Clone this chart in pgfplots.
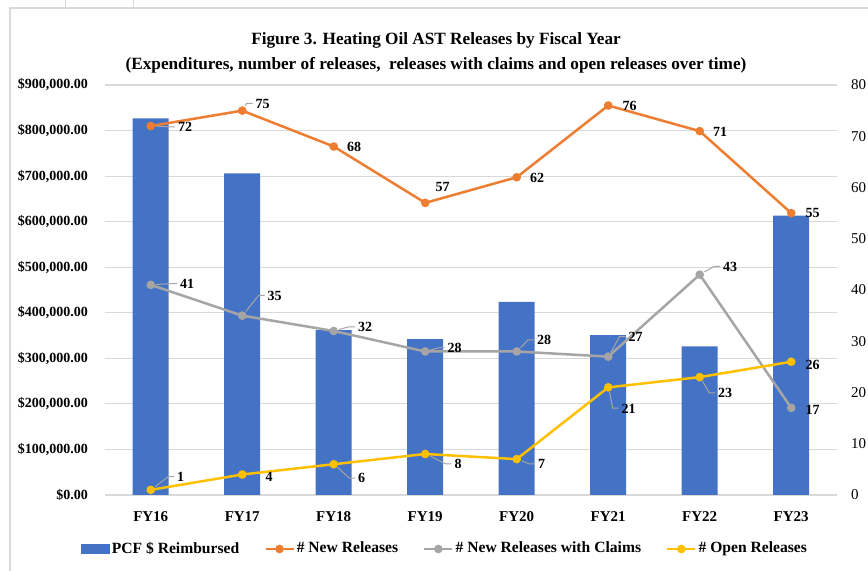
\documentclass[border=0pt]{standalone}
\usepackage{pgfplots}
\usepackage{pgfplotstable}
\pgfplotsset{compat=1.18}
\usepackage{fontspec}
\setmainfont{Liberation Serif}
\definecolor{barblue}{HTML}{4472C4}
\definecolor{orng}{HTML}{ED7D31}
\definecolor{gry}{HTML}{A5A5A5}
\definecolor{gold}{HTML}{FFC000}
\definecolor{gridc}{HTML}{D9D9D9}
\definecolor{leader}{HTML}{A6A6A6}

\pgfplotstableread{
x y
0 827000
1 706000
2 362000
3 342000
4 424000
5 351000
6 326000
7 613000
}\bars

\pgfplotstableread{
x y dx dy ll
0 72 13.5 -0.5 1
1 75 6.5 3.5 1
2 68 6.5 0 0
3 57 5 8 0
4 62 6.5 -0.5 0
5 76 7 0 0
6 71 6.5 -0.5 0
7 55 7 0 0
}\newrel

\pgfplotstableread{
x y dx dy ll
0 41 14.5 0.5 1
1 35 12.5 10 1
2 32 12 2 1
3 28 11 1.75 1
4 28 10 5.75 1
5 27 10 10 1
6 43 11.5 4 1
7 17 7 -1 0
}\claims

\pgfplotstableread{
x y dx dy ll
0 1 13 6.5 1
1 4 11.5 -1 0
2 6 12 -7 1
3 8 14.5 -5 1
4 7 10.5 -2.5 1
5 21 6.5 -10.5 1
6 23 9 -8 1
7 26 7 -1.5 0
}\openrel

\pgfplotsset{
  common/.style={
    scale only axis, width=366pt, height=205pt,
    at={(52.5pt,38pt)}, anchor=south west,
    xmin=-0.5, xmax=7.5,
    /pgf/number format/assume math mode=true,
  },
  lbl/.style={
    point meta=explicit,
    visualization depends on={\thisrow{dx}\as\dx},
    visualization depends on={\thisrow{dy}\as\dy},
    visualization depends on={\thisrow{ll}\as\ll},
    nodes near coords={\tikz[overlay,baseline=0pt]{\draw[draw=leader, line width=0.5pt, draw opacity=\ll, shorten >=2.5pt]
        (-1.5pt,2.4pt) -- (-4.5pt,2.4pt) -- (-\dx pt,2.4pt-\dy pt);}\pgfmathprintnumber{\pgfplotspointmeta}},
    every node near coord/.append style={anchor=west, xshift=\dx pt, yshift=\dy pt,
      font=\fontsize{7}{8}\selectfont\bfseries, text=black, inner sep=0pt},
  },
}

\begin{document}
\begin{tikzpicture}
\path[use as bounding box] (0,0) rectangle (434pt,285.5pt);
\draw[gridc, line width=0.6pt] (5pt,0) -- (5pt,281.5pt) -- (440pt,281.5pt);
\draw[gridc, line width=0.5pt] (32.5pt,281.5pt) -- (32.5pt,285.5pt);
\draw[gridc, line width=0.5pt] (66.5pt,281.5pt) -- (66.5pt,285.5pt);

\begin{axis}[common,
  ymin=0, ymax=900000,
  ytick={0,100000,...,900000},
  yticklabels={{\$0.00},{\$100,000.00},{\$200,000.00},{\$300,000.00},{\$400,000.00},{\$500,000.00},{\$600,000.00},{\$700,000.00},{\$800,000.00},{\$900,000.00}},
  scaled y ticks=false,
  xtick={0,...,7},
  xticklabels={FY16,FY17,FY18,FY19,FY20,FY21,FY22,FY23},
  ymajorgrids, grid style={gridc, line width=0.6pt},
  axis line style={draw=none},
  major tick length=0pt,
  tick style={draw=none},
  yticklabel style={font=\fontsize{7}{8}\selectfont\bfseries, xshift=-5pt},
  xticklabel style={font=\fontsize{7.5}{9}\selectfont\bfseries, anchor=base, yshift=-13.5pt},
  ybar, bar width=18pt,
]
\addplot[fill=barblue, draw=none] table[x=x,y=y]{\bars};
\end{axis}

\begin{axis}[common,
  ymin=0, ymax=80, ytick={0,10,...,80},
  axis y line*=right,
  axis x line=none,
  axis line style={draw=none},
  major tick length=0pt,
  tick style={draw=none},
  yticklabel style={font=\fontsize{7.5}{9}\selectfont, xshift=3.5pt},
  legend style={at={(0.4645,-0.1317)}, anchor=center, draw=none, fill=none,
    legend columns=4, font=\fontsize{7.8}{9}\selectfont\bfseries,
    /tikz/every even column/.append style={column sep=11.5pt},
    nodes={inner sep=1pt}},
  legend image code/.code={\draw[mark repeat=2,mark phase=2,#1] plot coordinates {(0pt,0pt) (7pt,0pt) (14pt,0pt)};},
]
\addlegendimage{legend image code/.code={\fill[barblue] (0pt,-2pt) rectangle (14pt,2.5pt);}}
\addlegendentry{PCF \$ Reimbursed}
\addplot[orng, line width=1.25pt, mark=*, mark size=1.5pt, mark options={solid, fill=orng}, lbl]
  table[x=x,y=y,meta=y]{\newrel};
\addlegendentry{\# New Releases}
\addplot[gry, line width=1.25pt, mark=*, mark size=1.5pt, mark options={solid, fill=gry}, lbl]
  table[x=x,y=y,meta=y]{\claims};
\addlegendentry{\# New Releases with Claims}
\addplot[gold, line width=1.25pt, mark=*, mark size=1.5pt, mark options={solid, fill=gold}, lbl]
  table[x=x,y=y,meta=y]{\openrel};
\addlegendentry{\# Open Releases}
\end{axis}

\node[font=\fontsize{8.6}{10}\selectfont\bfseries] at (218pt,265.5pt) {Figure 3. Heating Oil AST Releases by Fiscal Year};
\node[font=\fontsize{8.6}{10}\selectfont\bfseries] at (218pt,253pt) {(Expenditures, number of releases,\ \ releases with claims and open releases over time)};
\end{tikzpicture}
\end{document}
